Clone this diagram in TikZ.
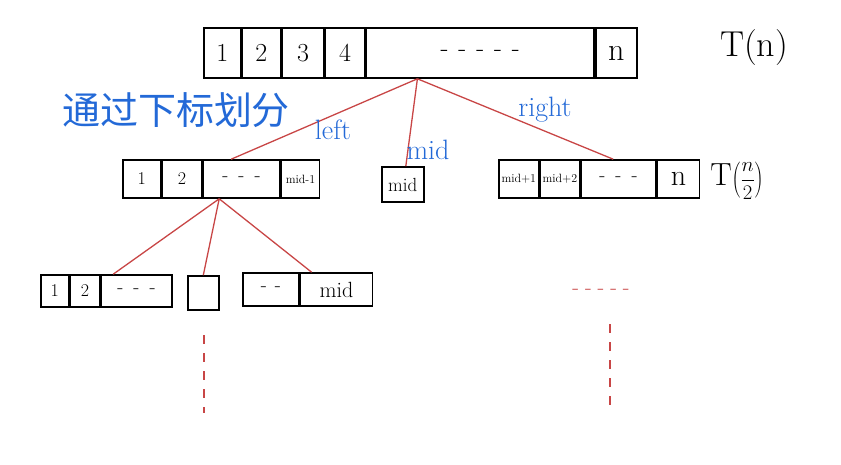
\documentclass[tikz,border=0pt]{standalone}
\usepackage{fontspec}
\newfontfamily\cjk{Noto Sans CJK SC}
\usetikzlibrary{calc}
\definecolor{penblue}{RGB}{35,105,215}
\definecolor{penred}{RGB}{200,70,70}
\tikzset{
  cell/.style={draw, line width=1.6pt, anchor=west, inner sep=0pt, font=\fontsize{26}{26}\selectfont},
  small/.style={font=\fontsize{12}{12}\selectfont},
  split/.style={penred, line width=1.3pt},
  tag/.style={penblue, font=\fontsize{28}{28}\selectfont},
}
\newcommand{\gaps}{-\hspace{10pt}-\hspace{10pt}-}
\begin{document}
\begin{tikzpicture}[x=1pt, y=-1pt]
\useasboundingbox (0,0) rectangle (841,465);
% whole array
\node[cell, minimum width=37, minimum height=50] (t1) at (203,53) {1};
\node[cell, minimum width=38, minimum height=50] (t2) at (t1.east) {2};
\node[cell, minimum width=42, minimum height=50] (t3) at (t2.east) {3};
\node[cell, minimum width=39, minimum height=50] (t4) at (t3.east) {4};
\node[cell, minimum width=228, minimum height=50] (t5) at (t4.east) {\gaps\hspace{10pt}-\hspace{10pt}-};
\node[cell, minimum width=41, minimum height=50, font=\fontsize{32}{32}\selectfont] (t6) at (t5.east) {n};
\node[font=\fontsize{36}{36}\selectfont] (tn) at (754,48) {T(n)};
\node[penblue, font=\cjk\fontsize{38}{38}\selectfont] (title) at (176,110) {通过下标划分};

% second level
\node[cell, minimum width=38, minimum height=38, font=\fontsize{18}{18}\selectfont] (l1) at (122,179) {1};
\node[cell, minimum width=39, minimum height=38, font=\fontsize{18}{18}\selectfont] (l2) at (l1.east) {2};
\node[cell, minimum width=77, minimum height=38, font=\fontsize{20}{20}\selectfont] (l3) at (l2.east) {\gaps};
\node[cell, minimum width=38, minimum height=38, small] (l4) at (l3.east) {mid-1};
\node[cell, minimum width=42, minimum height=35, font=\fontsize{19}{19}\selectfont] (m) at (381,184.5) {mid};
\node[cell, minimum width=40, minimum height=38, small] (r1) at (498,179) {mid+1};
\node[cell, minimum width=39, minimum height=38, small] (r2) at (r1.east) {mid+2};
\node[cell, minimum width=75, minimum height=38, font=\fontsize{20}{20}\selectfont] (r3) at (r2.east) {\gaps};
\node[cell, minimum width=42, minimum height=38, font=\fontsize{30}{30}\selectfont] (r4) at (r3.east) {n};
\node[font=\fontsize{22}{22}\selectfont, inner sep=1pt] (thalf) at (737,181) {{\fontsize{32}{32}\selectfont T}$\left(\displaystyle\frac{n}{2}\right)$};

\coordinate (root) at ($(t5.south west)+(52,0)$);
\draw[split] (root) -- ($(l3.north west)+(29,0)$);
\draw[split] (root) -- ($(m.north)+(3,0)$);
\draw[split] (root) -- ($(r3.north west)+(33,0)$);
\node[tag] (lt) at (333,130) {left};
\node[tag] (md) at (428,150) {mid};
\node[tag] (rt) at (545,110) {right};

% third level
\node[cell, minimum width=28, minimum height=32, font=\fontsize{18}{18}\selectfont] (a1) at (40,291) {1};
\node[cell, minimum width=29, minimum height=32, font=\fontsize{18}{18}\selectfont] (a2) at (a1.east) {2};
\node[cell, minimum width=71, minimum height=32, font=\fontsize{20}{20}\selectfont] (a3) at (a2.east) {\gaps};
\node[cell, minimum width=31, minimum height=34] (b) at (187,293) {};
\node[cell, minimum width=56, minimum height=33, font=\fontsize{20}{20}\selectfont] (c1) at (242,289.5) {-\hspace{8pt}-};
\node[cell, minimum width=72, minimum height=33, font=\fontsize{22}{22}\selectfont] (c2) at (c1.east) {mid};

\coordinate (lroot) at ($(l3.south west)+(17,0)$);
\draw[split] (lroot) -- ($(a3.north west)+(13,0)$);
\draw[split] (lroot) -- (b.north);
\draw[split] (lroot) -- ($(c2.north west)+(12,0)$);

% and so on
\node[penred, font=\fontsize{22}{22}\selectfont] (more) at (601,292) {-\hspace{6pt}-\hspace{6pt}-\hspace{6pt}-\hspace{6pt}-};
\draw[split, dashed, dash pattern=on 9pt off 9pt] (610,324) -- (610,406);
\draw[split, dashed, dash pattern=on 9pt off 9pt] (204,335) -- (204,413);
\end{tikzpicture}
\end{document}
